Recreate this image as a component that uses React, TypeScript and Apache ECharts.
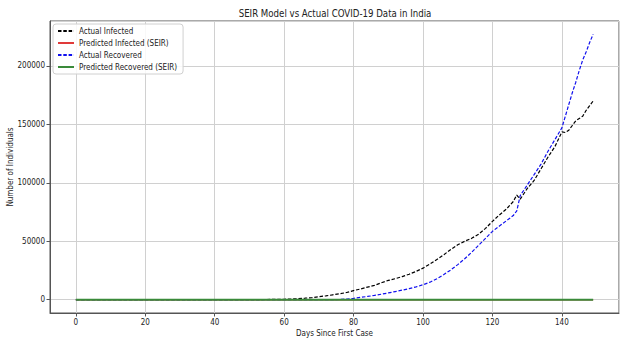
import React, { useEffect, useRef } from "react";
import * as echarts from "echarts";

const titleText = "SEIR Model vs Actual COVID-19 Data in India";
const xName = "Days Since First Case";
const yName = "Number of Individuals";

const infectedDays = [0, 10, 20, 30, 35, 40, 45, 50, 55, 60, 62, 64, 66, 68, 70, 72, 74, 76, 78, 80, 82, 84, 86, 88, 90, 92, 94, 96, 98, 100, 102, 104, 106, 108, 110, 112, 114, 116, 118, 120, 122, 124, 126, 127, 128, 130, 132, 134, 136, 138, 140, 141, 142, 143, 144, 145, 146, 147, 148, 149];
const infectedValues = [3, 3, 0, 3, 20, 30, 50, 100, 200, 400, 600, 900, 1300, 1800, 2600, 3300, 4200, 5100, 6200, 7800, 9200, 10800, 12300, 14500, 16500, 18000, 19800, 21800, 24200, 27000, 30500, 34500, 38500, 43000, 47000, 50000, 52500, 56000, 61000, 67000, 72500, 77500, 84000, 89500, 86000, 95000, 102000, 112000, 122000, 131000, 143500, 143000, 145000, 149000, 153000, 155000, 157000, 162000, 166000, 170000];

const recoveredDays = [0, 60, 70, 74, 76, 78, 80, 82, 84, 86, 88, 90, 92, 94, 96, 98, 100, 102, 104, 106, 108, 110, 112, 114, 116, 118, 120, 122, 124, 126, 127, 128, 130, 132, 134, 136, 138, 140, 141, 142, 143, 144, 145, 146, 147, 148, 149];
const recoveredValues = [0, 0, 0, 0, 200, 600, 1200, 2000, 2800, 3700, 4700, 5800, 7000, 8200, 9500, 11000, 12800, 15000, 18000, 21500, 25500, 30000, 35000, 40500, 46500, 52500, 58500, 63000, 67500, 72000, 76000, 89000, 98000, 107000, 116000, 127000, 137000, 147000, 157000, 167000, 177000, 186000, 196000, 205000, 212000, 220000, 227000];

const predictedDays = [0, 149];
const predictedInfectedValues = [0, 0];
const predictedRecoveredValues = [0, 0];

const xMin = -7.45;
const xMax = 156.45;
const yMin = -11350;
const yMax = 238350;

const FONT = "'DejaVu Sans Condensed', 'DejaVu Sans', sans-serif";

function pairs(xs: number[], ys: number[]) {
  return xs.map((x, i) => [x, ys[i]]);
}

export default function App() {
  const ref = useRef<HTMLDivElement>(null);
  useEffect(() => {
    if (!ref.current) return;
    const chart = echarts.init(ref.current, undefined, { renderer: "svg" });
    const axisColor = "#555";
    const gridColor = "#d0d0d0";
    const fmt = (v: number) => String(Math.round(v));
    chart.setOption({
      animation: false,
      backgroundColor: "#fff",
      textStyle: { fontFamily: FONT },
      graphic: [
        {
          type: "text",
          x: 335,
          y: 13,
          style: {
            text: titleText,
            fontFamily: FONT,
            fontSize: 9.6,
            fill: "#222",
            textAlign: "center",
            textVerticalAlign: "middle",
          },
        },
      ],
      grid: {
        left: 50,
        right: 12,
        top: 21,
        bottom: 43,
        show: true,
        borderColor: axisColor,
        borderWidth: 1,
        containLabel: false,
        outerBoundsMode: "none",
      },
      legend: {
        orient: "vertical",
        left: 53,
        top: 24,
        itemWidth: 16,
        itemHeight: 8,
        itemGap: 4,
        padding: [3, 6, 3, 4],
        backgroundColor: "rgba(255,255,255,0.85)",
        borderColor: "#d0d0d0",
        borderWidth: 1,
        borderRadius: 3,
        itemStyle: { opacity: 0 },
        textStyle: { fontSize: 8, color: "#222", fontFamily: FONT },
        data: ["Actual Infected", "Predicted Infected (SEIR)", "Actual Recovered", "Predicted Recovered (SEIR)"],
      },
      xAxis: {
        type: "value",
        min: xMin,
        max: xMax,
        minInterval: 20,
        maxInterval: 20,
        name: xName,
        nameLocation: "middle",
        nameGap: 16,
        nameMoveOverlap: false,
        nameTextStyle: { fontSize: 8, color: "#222", fontFamily: FONT },
        axisLine: { show: true, onZero: false, lineStyle: { color: axisColor, width: 1 } },
        axisTick: { show: true, length: 3.5, lineStyle: { color: axisColor } },
        axisLabel: {
          showMinLabel: false,
          showMaxLabel: false,
          margin: 5,
          fontSize: 8,
          color: "#222",
          fontFamily: FONT,
          formatter: fmt,
        },
        splitLine: { show: true, lineStyle: { color: gridColor, width: 1 } },
      },
      yAxis: {
        type: "value",
        min: yMin,
        max: yMax,
        minInterval: 50000,
        maxInterval: 50000,
        name: yName,
        nameLocation: "middle",
        nameGap: 36,
        nameMoveOverlap: false,
        nameTextStyle: { fontSize: 8, color: "#222", fontFamily: FONT },
        axisLine: { show: true, onZero: false, lineStyle: { color: axisColor, width: 1 } },
        axisTick: { show: true, length: 3.5, lineStyle: { color: axisColor } },
        axisLabel: {
          showMinLabel: false,
          showMaxLabel: false,
          margin: 5,
          fontSize: 8,
          color: "#222",
          fontFamily: FONT,
          formatter: fmt,
        },
        splitLine: { show: true, lineStyle: { color: gridColor, width: 1 } },
      },
      series: [
        {
          name: "Actual Infected",
          type: "line",
          data: pairs(infectedDays, infectedValues),
          symbol: "none",
          lineStyle: { color: "#000", width: 1.2, type: [3.5, 1.8] },
          itemStyle: { color: "#000" },
        },
        {
          name: "Predicted Infected (SEIR)",
          type: "line",
          data: pairs(predictedDays, predictedInfectedValues),
          symbol: "none",
          lineStyle: { color: "#e03a3a", width: 1.5 },
          itemStyle: { color: "#e03a3a" },
        },
        {
          name: "Actual Recovered",
          type: "line",
          data: pairs(recoveredDays, recoveredValues),
          symbol: "none",
          lineStyle: { color: "#1010ee", width: 1.2, type: [3.5, 1.8] },
          itemStyle: { color: "#1010ee" },
        },
        {
          name: "Predicted Recovered (SEIR)",
          type: "line",
          data: pairs(predictedDays, predictedRecoveredValues),
          symbol: "none",
          lineStyle: { color: "#3a8a3a", width: 2.2 },
          itemStyle: { color: "#3a8a3a" },
        },
      ],
    });
    return () => chart.dispose();
  }, []);
  return (
    <div
      ref={ref}
      style={{ position: "fixed", left: 0, top: 0, width: 631, height: 356 }}
    />
  );
}
